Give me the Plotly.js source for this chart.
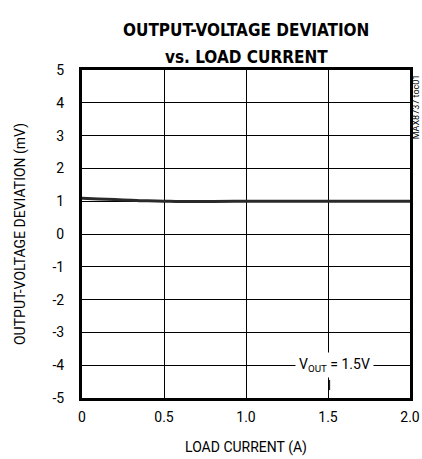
<!DOCTYPE html>
<html>
<head>
<meta charset="utf-8">
<script src="https://cdn.plot.ly/plotly-3.0.1.min.js"></script>
<style>html,body{margin:0;padding:0;background:#fff;}#chart{width:422px;height:459px;}</style>
</head>
<body>
<div id="chart"></div>
<script>
const loadCurrent = [0, 0.1, 0.2, 0.3, 0.4, 0.5, 0.6, 0.7, 0.8, 1.0, 1.2, 1.5, 1.8, 2.0];
const deviation = [1.09, 1.07, 1.05, 1.03, 1.01, 1.0, 0.99, 0.99, 0.99, 1.0, 1.0, 1.0, 1.0, 1.0];
const xTickVals = [0, 0.5, 1.0, 1.5, 2.0];
const xTickText = ["0", "0.5", "1.0", "1.5", "2.0"];
const yTickVals = [-5, -4, -3, -2, -1, 0, 1, 2, 3, 4, 5];
const yTickText = ["-5", "-4", "-3", "-2", "-1", "0", "1", "2", "3", "4", "5"];

const narrow = 'Roboto, "DejaVu Sans Condensed", Arial, sans-serif';
const boldNarrow = '"DejaVu Sans Condensed", Roboto, Arial, sans-serif';

const trace = {
  x: loadCurrent, y: deviation, mode: 'lines', type: 'scatter',
  line: {color: '#2a2a2a', width: 3, shape: 'spline'}, hoverinfo: 'skip'
};

const layout = {
  width: 422, height: 459,
  margin: {l: 82, r: 12, t: 70, b: 61},
  paper_bgcolor: '#fff', plot_bgcolor: '#fff',
  showlegend: false,
  xaxis: {
    range: [0, 2], tickvals: xTickVals, ticktext: xTickText,
    showgrid: true, gridcolor: '#000', gridwidth: 1,
    zeroline: false, showline: true, linecolor: '#000', linewidth: 3, mirror: true,
    ticks: '', ticklen: 0, ticklabelstandoff: 4,
    tickfont: {family: narrow, size: 14, color: '#000'},
    title: {text: 'LOAD CURRENT (A)', font: {family: narrow, size: 14, color: '#000'}, standoff: 19}
  },
  yaxis: {
    range: [-5, 5], tickvals: yTickVals, ticktext: yTickText,
    showgrid: true, gridcolor: '#000', gridwidth: 1,
    zeroline: false, showline: true, linecolor: '#000', linewidth: 3, mirror: true,
    ticks: '', ticklen: 0, ticklabelstandoff: 12,
    tickfont: {family: narrow, size: 14, color: '#000'},
    title: {text: 'OUTPUT-VOLTAGE DEVIATION (mV)', font: {family: narrow, size: 14, color: '#000'}, standoff: 24}
  },
  annotations: [
    {
      x: 0.5, y: 1.1585, xref: 'paper', yref: 'paper', showarrow: false,
      text: '<b>OUTPUT-VOLTAGE DEVIATION</b>',
      font: {family: boldNarrow, size: 17, color: '#000'}
    },
    {
      x: 0.5, y: 1.0762, xref: 'paper', yref: 'paper', showarrow: false,
      text: '<b>vs. LOAD CURRENT</b>',
      font: {family: boldNarrow, size: 17, color: '#000'}
    },
    {
      x: 1.54, y: -4, xref: 'x', yref: 'y', showarrow: false,
      text: 'V<sub>OUT</sub> = 1.5V', bgcolor: '#fff', borderpad: 3,
      font: {family: narrow, size: 14, color: '#000'}
    },
    {
      x: 1.021, y: 0.994, xref: 'paper', yref: 'paper', showarrow: false,
      xanchor: 'center', yanchor: 'top',
      text: 'MAX8737 toc01', textangle: -90,
      font: {family: narrow, size: 9, color: '#000'}
    }
  ],
  shapes: [
    {type: 'line', xref: 'x', yref: 'y', x0: 1.51, x1: 1.51, y0: -4.45, y1: -4.76,
     line: {color: '#000', width: 1}}
  ]
};

Plotly.newPlot('chart', [trace], layout, {displayModeBar: false, staticPlot: true});
</script>
</body>
</html>
